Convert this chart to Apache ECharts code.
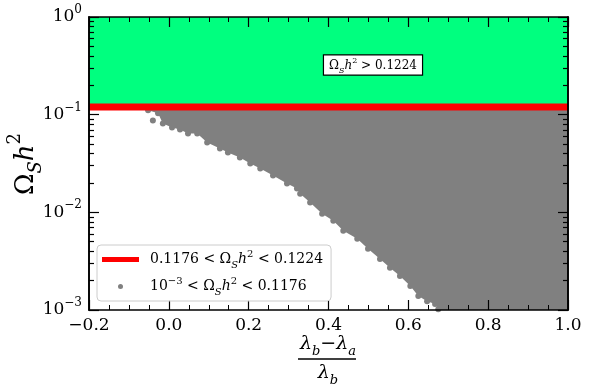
<!DOCTYPE html>
<html>
<head>
<meta charset="utf-8">
<script src="https://cdn.jsdelivr.net/npm/echarts@6/dist/echarts.min.js"></script>
<style>html,body{margin:0;padding:0;background:#fff}#c{width:590px;height:390px}</style>
</head>
<body>
<div id="c"></div>
<script>
// relic density scan — log y axis, band + scatter region
const X_MIN = -0.2, X_MAX = 1.0;
const Y_MAJOR = [1e-3, 1e-2, 1e-1, 1];
const Y_MINOR = [];
[1e-3, 1e-2, 1e-1].forEach(function (d) {
  [2, 3, 4, 5, 6, 7, 8, 9].forEach(function (k) { Y_MINOR.push(+(k * d).toPrecision(3)); });
});

const BAND_LOW = 0.1176, BAND_HIGH = 0.1224, BAND_MID = 0.12, OMEGA_TOP = 1, OMEGA_FLOOR = 1e-3;

// lower-left edge of the scanned points
const EDGE_X = [-0.052, -0.027, -0.015, 0.008, 0.028, 0.048, 0.071, 0.096, 0.128, 0.148, 0.178, 0.204, 0.229, 0.261, 0.296, 0.321, 0.329, 0.354, 0.384, 0.412, 0.437, 0.472, 0.499, 0.529, 0.554, 0.579, 0.605, 0.625, 0.647, 0.667, 0.675];
const EDGE_Y = [0.1107, 0.1031, 0.0814, 0.074, 0.0706, 0.0643, 0.0643, 0.0519, 0.0451, 0.041, 0.0364, 0.0316, 0.0281, 0.0238, 0.0197, 0.0175, 0.0155, 0.0126, 0.00969, 0.0082, 0.00648, 0.00536, 0.00423, 0.00333, 0.0027, 0.00223, 0.00176, 0.00139, 0.00123, 0.00115, 0.00102];
const STRAY = [[-0.040, 0.0873]];

const FONT = 'DejaVu Serif';
const GRAY = '#808080';
const GREEN = '#00ff7f';
const RED = '#ff0000';

const MATH_RICH = function (size) {
  return {
    r: { fontFamily: FONT, fontSize: size, color: '#000', lineHeight: Math.round(size * 1.5) },
    i: { fontFamily: FONT, fontSize: size, fontStyle: 'italic', color: '#000', lineHeight: Math.round(size * 1.5) },
    sub: { fontFamily: FONT, fontSize: Math.round(size * 0.7), fontStyle: 'italic', color: '#000', lineHeight: Math.round(size * 0.8), verticalAlign: 'bottom' },
    sup: { fontFamily: FONT, fontSize: Math.round(size * 0.7), color: '#000', lineHeight: Math.round(size * 0.8), verticalAlign: 'top' }
  };
};
const OMEGA = '{r|Ω}{sub|S}{i|h}{sup|2}';
const LEGEND_TEXT = {
  relic: '{r|0.1176 < }' + OMEGA + '{r| < 0.1224}',
  scan: '{r|10}{sup|−3}{r| < }' + OMEGA + '{r| < 0.1176}'
};

const chart = echarts.init(document.getElementById('c'));

function xAxisCfg(pos, labels) {
  return {
    type: 'value', position: pos, min: X_MIN, max: X_MAX, interval: 0.2, z: 10,
    axisLine: { onZero: false, lineStyle: { color: '#000', width: 1.6 } },
    axisTick: { inside: true, length: 10, lineStyle: { color: '#000', width: 1.2 } },
    minorTick: { show: true, splitNumber: 4, length: 5, lineStyle: { color: '#000', width: 1 } },
    splitLine: { show: false },
    axisLabel: {
      show: labels, margin: 7, color: '#000', fontFamily: FONT, fontSize: 17,
      formatter: function (v) { return Math.abs(v) < 1e-9 ? '0.0' : v.toFixed(1).replace('-', '\u2212'); }
    }
  };
}

function yAxisCfg(pos, ticks, len, labels) {
  return {
    type: 'log', logBase: 10, position: pos, min: OMEGA_FLOOR, max: OMEGA_TOP, z: 10,
    axisLine: { onZero: false, lineStyle: { color: '#000', width: 1.6 } },
    axisTick: { inside: true, length: len, customValues: ticks, lineStyle: { color: '#000', width: 1.2 } },
    minorTick: { show: false },
    splitLine: { show: false },
    axisLabel: {
      show: labels, margin: 7, customValues: Y_MAJOR,
      formatter: function (v) {
        const e = Math.round(Math.log10(v));
        return '{b|10}{s|' + (e < 0 ? '\u2212' + (-e) : e) + '}';
      },
      rich: {
        b: { fontFamily: FONT, fontSize: 17, color: '#000', lineHeight: 26 },
        s: { fontFamily: FONT, fontSize: 12, color: '#000', lineHeight: 12, verticalAlign: 'top' }
      }
    }
  };
}

chart.setOption({
  animation: false,
  grid: { left: 89, right: 22, top: 17, bottom: 80 },
  xAxis: [xAxisCfg('bottom', true), xAxisCfg('top', false)],
  yAxis: [
    yAxisCfg('left', Y_MAJOR, 10, true),
    yAxisCfg('left', Y_MINOR, 5, false),
    yAxisCfg('right', Y_MAJOR, 10, false),
    yAxisCfg('right', Y_MINOR, 5, false)
  ],
  legend: {
    orient: 'vertical', left: 97, top: 245, z: 20,
    data: [{ name: 'relic', icon: 'rect' }, { name: 'scan', icon: 'circle' }],
    itemWidth: 37, itemHeight: 5, itemGap: 6,
    padding: [4, 8, 4, 5],
    backgroundColor: 'rgba(255,255,255,0.85)', borderColor: '#cccccc', borderWidth: 1, borderRadius: 4,
    selectedMode: false,
    formatter: function (n) { return LEGEND_TEXT[n]; },
    textStyle: { padding: [0, 0, 0, 6], rich: MATH_RICH(14) }
  },
  graphic: [
    {
      type: 'text', x: 373, y: 65, z: 30,
      style: {
        text: OMEGA + '{r| > 0.1224}', rich: MATH_RICH(12),
        align: 'center', verticalAlign: 'middle',
        backgroundColor: '#fff', borderColor: '#000', borderWidth: 1.2, padding: [1, 5, 0, 5]
      }
    },
    {
      type: 'text', x: 26, y: 164, rotation: Math.PI / 2,
      style: { text: OMEGA, rich: MATH_RICH(26), align: 'center', verticalAlign: 'middle' }
    },
    {
      type: 'text', x: 328, y: 344,
      style: { text: '{i|λ}{sub|b}{r|−}{i|λ}{sub|a}', rich: MATH_RICH(19), align: 'center', verticalAlign: 'middle' }
    },
    { type: 'line', shape: { x1: 298, y1: 359, x2: 356, y2: 359 }, style: { stroke: '#000', lineWidth: 1.6 } },
    {
      type: 'text', x: 328, y: 373,
      style: { text: '{i|λ}{sub|b}', rich: MATH_RICH(19), align: 'center', verticalAlign: 'middle' }
    }
  ],
  series: [
    {
      type: 'custom', silent: true, z: 1, clip: true, data: [0],
      renderItem: function (params, api) {
        const a = api.coord([X_MIN, OMEGA_TOP]);
        const b = api.coord([X_MAX, BAND_HIGH]);
        return { type: 'rect', shape: { x: a[0], y: a[1], width: b[0] - a[0], height: b[1] - a[1] }, style: { fill: GREEN } };
      }
    },
    {
      type: 'custom', silent: true, z: 1, clip: true, data: [0],
      renderItem: function (params, api) {
        const pts = [api.coord([EDGE_X[0], BAND_LOW])];
        EDGE_X.forEach(function (x, i) { pts.push(api.coord([x, EDGE_Y[i]])); });
        pts.push(api.coord([EDGE_X[EDGE_X.length - 1], OMEGA_FLOOR]));
        pts.push(api.coord([X_MAX, OMEGA_FLOOR]));
        pts.push(api.coord([X_MAX, BAND_LOW]));
        return { type: 'polygon', shape: { points: pts }, style: { fill: GRAY } };
      }
    },
    {
      name: 'scan', type: 'scatter', z: 2, symbolSize: 6,
      itemStyle: { color: GRAY, opacity: 1 },
      data: EDGE_X.map(function (x, i) { return [x, EDGE_Y[i]]; }).concat(STRAY)
    },
    {
      name: 'relic', type: 'line', z: 3, symbol: 'none',
      lineStyle: { color: RED, width: 7 }, itemStyle: { color: RED },
      data: [[X_MIN, BAND_MID], [X_MAX, BAND_MID]]
    }
  ]
});
</script>
</body>
</html>
